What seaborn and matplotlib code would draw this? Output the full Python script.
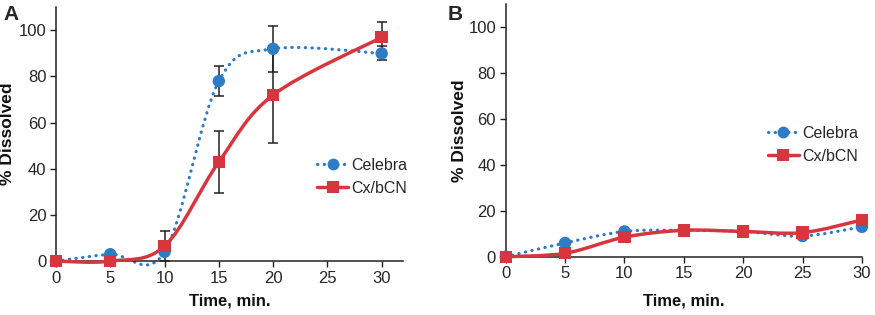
import numpy as np
import pandas as pd
import seaborn as sns
import matplotlib.pyplot as plt
from matplotlib.path import Path
from matplotlib.patches import PathPatch
from matplotlib.lines import Line2D

# Panel A data
time_a = [0, 5, 10, 15, 20, 30]
celebra_a = [0, 3, 4, 78, 92, 90]
celebra_a_err = [0, 0, 0, 6.5, 10, 3]
cxbcn_a = [0, 0, 6.5, 43, 72, 97]
cxbcn_a_err = [0, 0, 6.5, 13.5, 21, 6.5]

# Panel B data
time_b = [0, 5, 10, 15, 20, 25, 30]
celebra_b = [0, 6, 11, 11.5, 11, 9, 13]
cxbcn_b = [0, 1.5, 8.5, 11.5, 11, 10.5, 16]

BLUE = '#2f7cc6'
RED = '#d8363f'


def smooth_path(x, y):
    # Excel style smoothed line drawn as cubic bezier segments
    pts = np.column_stack([x, y]).astype(float)
    n = len(pts)
    verts = [pts[0]]
    codes = [Path.MOVETO]
    for i in range(n - 1):
        p0 = pts[max(i - 1, 0)]
        p1 = pts[i]
        p2 = pts[i + 1]
        p3 = pts[min(i + 2, n - 1)]
        c1 = p1 + (p2 - p0) / 6.0
        c2 = p2 - (p3 - p1) / 6.0
        verts += [c1, c2, p2]
        codes += [Path.CURVE4] * 3
    return Path(verts, codes)


def add_curve(ax, x, y, color, style):
    if style == 'dotted':
        patch = PathPatch(smooth_path(x, y), facecolor='none', edgecolor=color,
                          lw=2.3, linestyle=(0, (0.1, 2.0)), capstyle='round',
                          clip_on=False, zorder=2)
    else:
        patch = PathPatch(smooth_path(x, y), facecolor='none', edgecolor=color,
                          lw=2.5, clip_on=False, zorder=3)
    ax.add_patch(patch)


def style_axes(ax, xmax, xlab_y, ylab_x):
    ax.set_xlim(0, xmax)
    ax.set_ylim(0, 110)
    ax.set_xticks([0, 5, 10, 15, 20, 25, 30])
    ax.set_yticks([0, 20, 40, 60, 80, 100])
    ax.tick_params(axis='both', direction='out', length=4, width=1,
                   labelsize=12, color='#222222', pad=3)
    sns.despine(ax=ax)
    for s in ['left', 'bottom']:
        ax.spines[s].set_linewidth(1.1)
        ax.spines[s].set_color('#222222')
    ax.set_xlabel('Time, min.', fontsize=12, fontweight='bold')
    ax.set_ylabel('% Dissolved', fontsize=12.5, fontweight='bold')
    ax.xaxis.set_label_coords(0.5, xlab_y)
    ax.yaxis.set_label_coords(ylab_x, 0.5)
    ax.xaxis.label.set_color('#111111')
    ax.yaxis.label.set_color('#111111')


sns.set_theme(style='ticks')
plt.rcParams['font.family'] = ['Liberation Sans', 'DejaVu Sans']

fig = plt.figure(figsize=(8.75, 3.15), dpi=100)
ax_a = fig.add_axes([0.064, 0.171, 0.397, 0.806])
ax_b = fig.add_axes([0.578, 0.185, 0.407, 0.802])

# Panel A
df_a = pd.DataFrame({'time': time_a * 2,
                     'value': celebra_a + cxbcn_a,
                     'series': ['Celebra'] * len(time_a) + ['Cx/bCN'] * len(time_a)})
add_curve(ax_a, time_a, celebra_a, BLUE, 'dotted')
add_curve(ax_a, time_a, cxbcn_a, RED, 'solid')
for y, err in [(celebra_a, celebra_a_err), (cxbcn_a, cxbcn_a_err)]:
    e = np.array(err)
    mask = e > 0
    ax_a.errorbar(np.array(time_a)[mask], np.array(y)[mask], yerr=e[mask],
                  fmt='none', ecolor='#222222', elinewidth=1.1, capsize=3.5,
                  capthick=1.1, zorder=4)
sns.scatterplot(data=df_a, x='time', y='value', hue='series', style='series',
                markers={'Celebra': 'o', 'Cx/bCN': 's'},
                palette={'Celebra': BLUE, 'Cx/bCN': RED},
                s=80, linewidth=0, ax=ax_a, legend=False, clip_on=False, zorder=5)
style_axes(ax_a, 32, -0.126, -0.118)

# Panel B
df_b = pd.DataFrame({'time': time_b * 2,
                     'value': celebra_b + cxbcn_b,
                     'series': ['Celebra'] * len(time_b) + ['Cx/bCN'] * len(time_b)})
add_curve(ax_b, time_b, celebra_b, BLUE, 'dotted')
add_curve(ax_b, time_b, cxbcn_b, RED, 'solid')
sns.scatterplot(data=df_b, x='time', y='value', hue='series', style='series',
                markers={'Celebra': 'o', 'Cx/bCN': 's'},
                palette={'Celebra': BLUE, 'Cx/bCN': RED},
                s=80, linewidth=0, ax=ax_b, legend=False, clip_on=False, zorder=5)
style_axes(ax_b, 30, -0.144, -0.11)

handles = [Line2D([], [], color=BLUE, lw=2.3, linestyle=(0, (0.1, 2.0)),
                  dash_capstyle='round', marker='o', markersize=8.5, markeredgewidth=0),
           Line2D([], [], color=RED, lw=2.5, marker='s', markersize=8.5, markeredgewidth=0)]
labels = ['Celebra', 'Cx/bCN']
for ax, anchor in [(ax_a, (0.75, 0.333)), (ax_b, (0.735, 0.442))]:
    ax.legend(handles, labels, loc='center left', bbox_to_anchor=anchor,
              frameon=False, fontsize=11.5, handlelength=2.0, handletextpad=0.15,
              labelspacing=0.5, borderaxespad=0, borderpad=0)

fig.text(0.004, 0.955, 'A', fontsize=15, fontweight='bold', va='center')
fig.text(0.512, 0.955, 'B', fontsize=15, fontweight='bold', va='center')

fig.savefig('out.png', dpi=100)
